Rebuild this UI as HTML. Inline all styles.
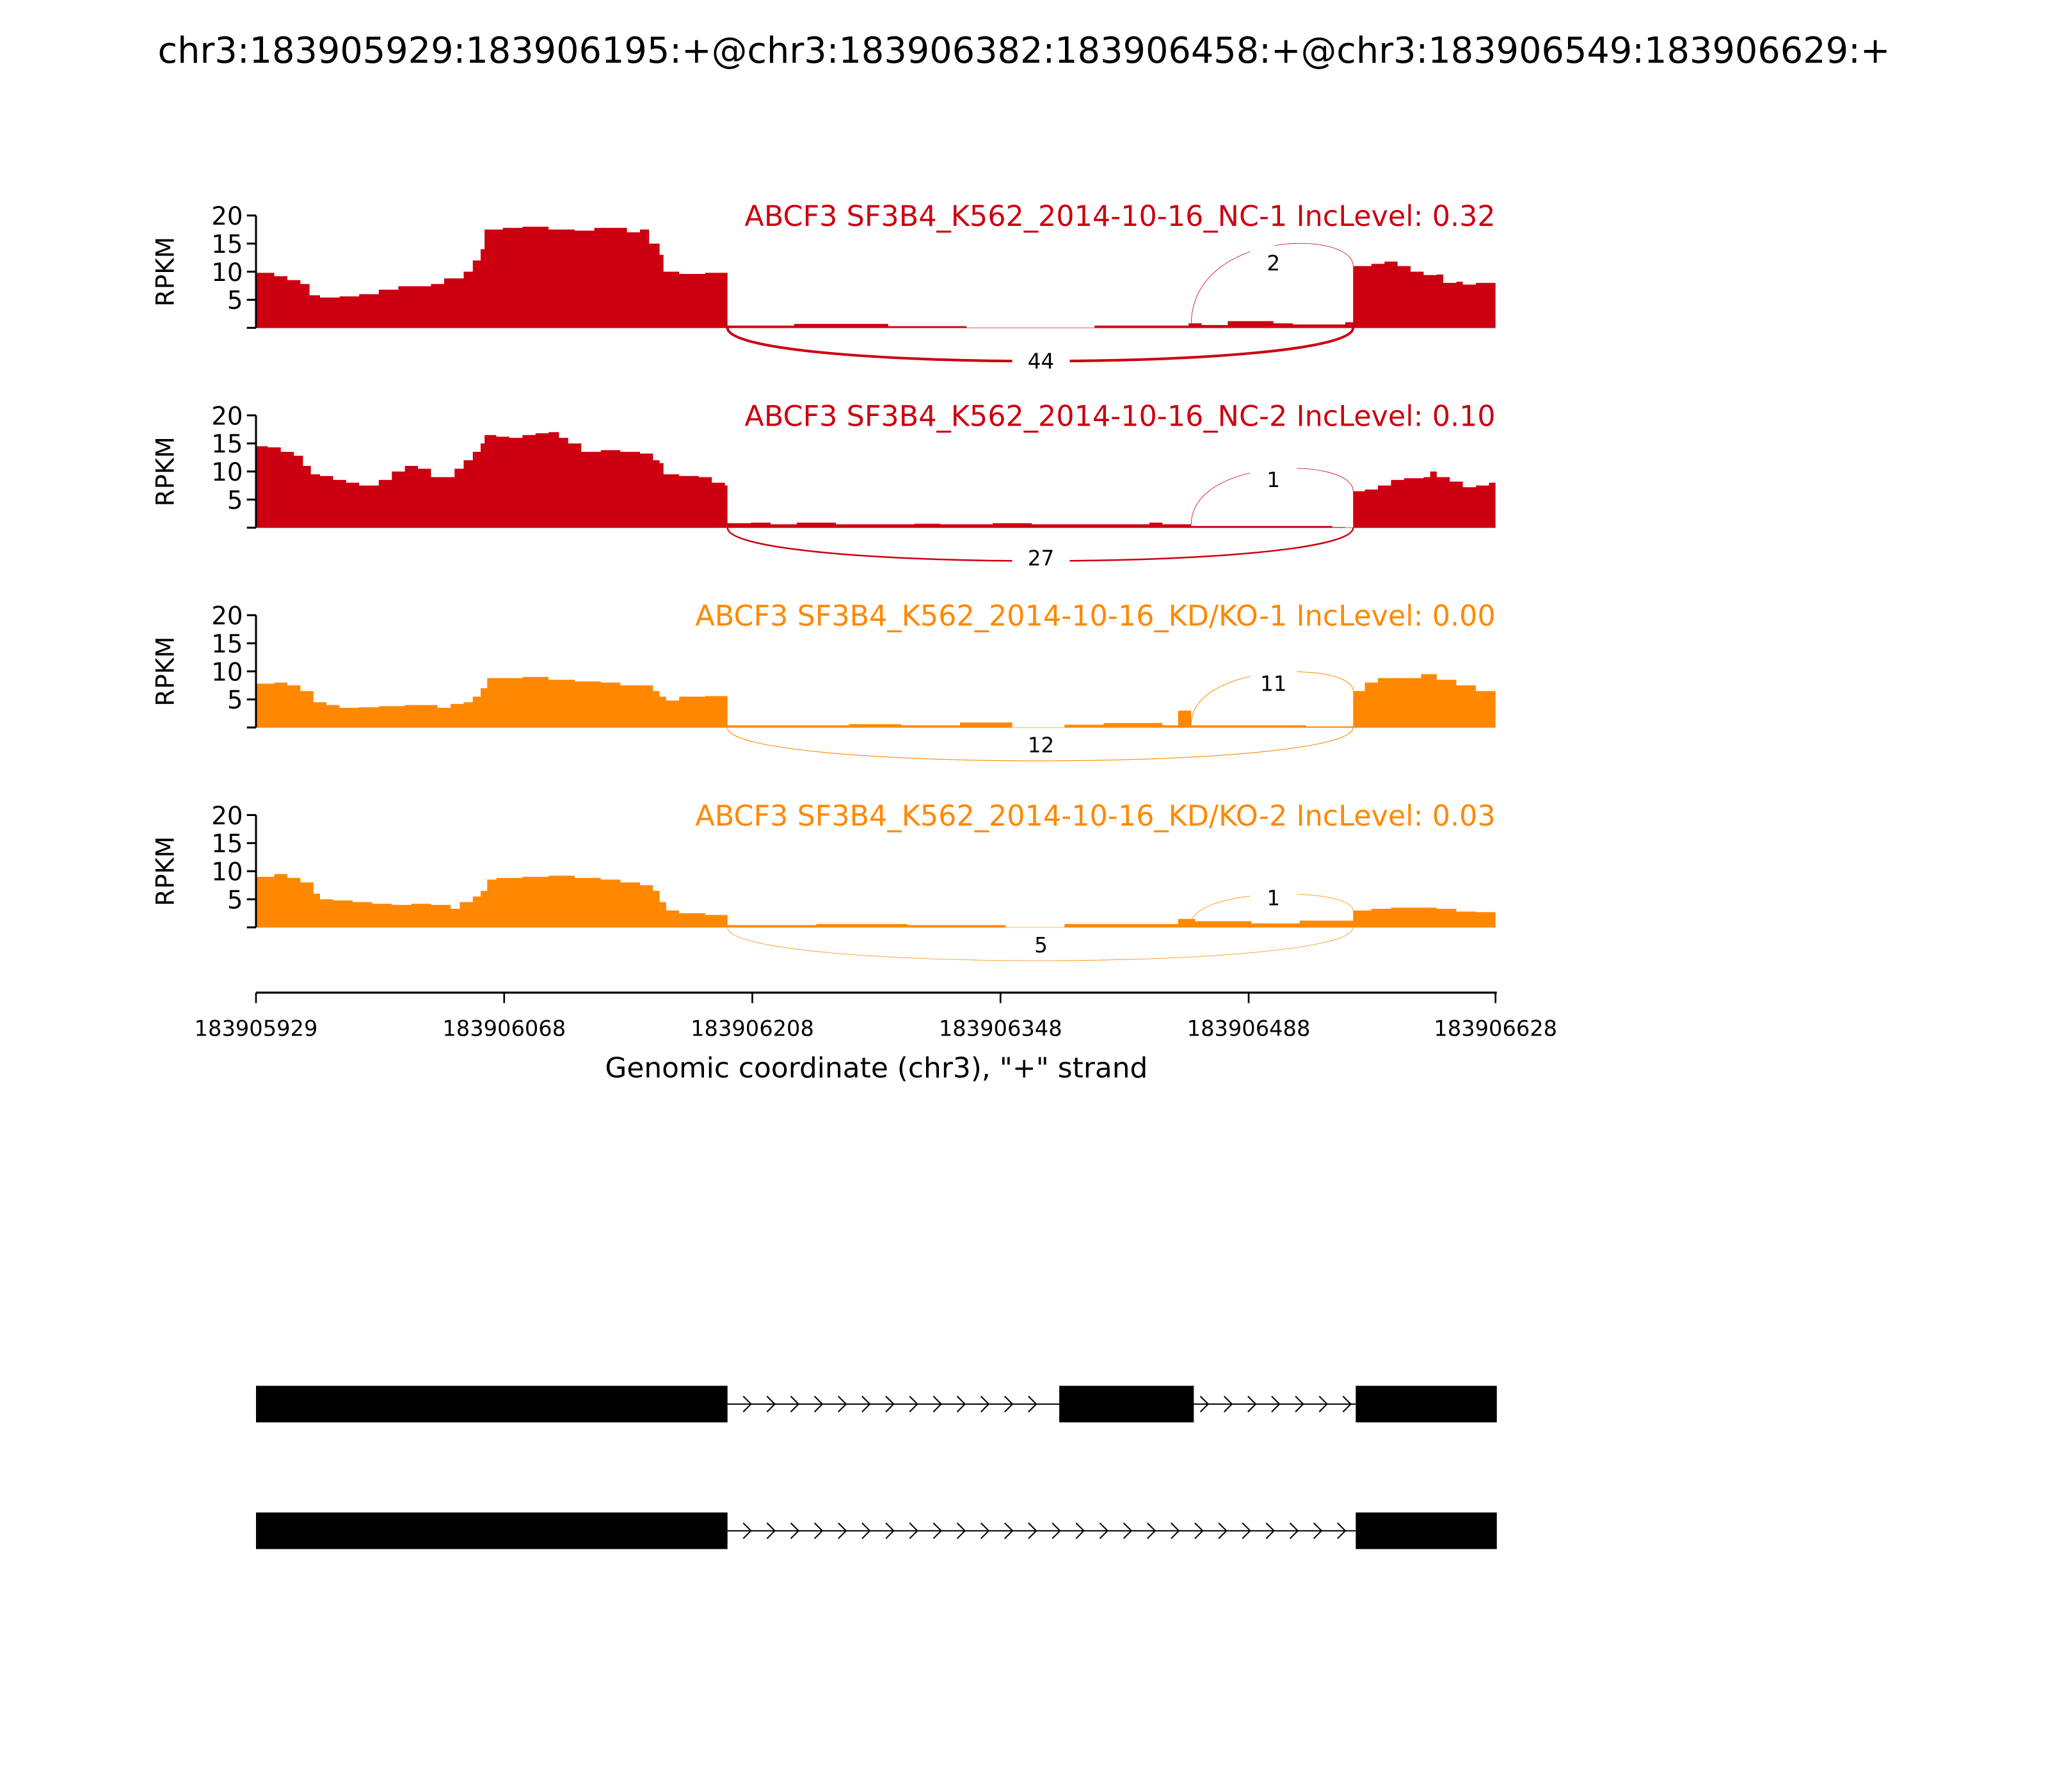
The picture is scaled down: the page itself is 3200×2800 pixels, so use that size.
<!DOCTYPE html>
<html><head><meta charset="utf-8"><style>html,body{margin:0;padding:0;background:#fff}svg{display:block}text{font-family:"DejaVu Sans","Liberation Sans",sans-serif}</style></head>
<body>
<svg id="s" xmlns="http://www.w3.org/2000/svg" width="3200" height="2800" viewBox="0 0 1568 1372" preserveAspectRatio="none">
<rect width="1568" height="1372" fill="#fff"/>
<text x="784" y="48" font-size="27.3" text-anchor="middle">chr3:183905929:183906195:+@chr3:183906382:183906458:+@chr3:183906549:183906629:+</text>
<g id="g"></g>
<line x1="196" y1="760" x2="1146" y2="760" stroke="#000" stroke-width="1.6"/>
<g stroke="#000" stroke-width="1.3">
<line x1="196" y1="760" x2="196" y2="768"/><line x1="386" y1="760" x2="386" y2="768"/><line x1="576" y1="760" x2="576" y2="768"/><line x1="766" y1="760" x2="766" y2="768"/><line x1="956" y1="760" x2="956" y2="768"/><line x1="1145" y1="760" x2="1145" y2="768"/></g>
<g font-size="16.5" text-anchor="middle">
<text x="196" y="793">183905929</text><text x="386" y="793">183906068</text><text x="576" y="793">183906208</text><text x="766" y="793">183906348</text><text x="956" y="793">183906488</text><text x="1145" y="793">183906628</text></g>
<text x="671" y="825" font-size="21.5" text-anchor="middle">Genomic coordinate (chr3), "+" strand</text>
<g fill="#000">
<rect x="196" y="1061" width="361" height="28"/><rect x="811" y="1061" width="103" height="28"/><rect x="1038" y="1061" width="108" height="28"/>
<rect x="196" y="1158" width="361" height="28"/><rect x="1038" y="1158" width="108" height="28"/></g>
<line x1="557" y1="1075" x2="811" y2="1075" stroke="#000" stroke-width="1"/>
<line x1="914" y1="1075" x2="1038" y2="1075" stroke="#000" stroke-width="1"/>
<line x1="557" y1="1172" x2="1038" y2="1172" stroke="#000" stroke-width="1"/>
<g id="chev" fill="none" stroke="#000" stroke-width="1"></g>
</svg>
<script>
var NS="http://www.w3.org/2000/svg",g=document.getElementById('g');
function el(t,a,p){var e=document.createElementNS(NS,t);for(var k in a)e.setAttribute(k,a[k]);(p||g).appendChild(e);return e;}
var R="#CC0011",O="#FF8800";
var panels=[
{c:R,t:"ABCF3 SF3B4_K562_2014-10-16_NC-1 IncLevel: 0.32",b:251,up:2,lo:44,
d:[196,9.8,210,9.2,220,8.5,230,7.8,237,5.8,245,5.4,260,5.6,275,6,290,6.8,305,7.4,330,7.8,340,8.8,355,10,362,12,368,14,371,17.5,385,17.8,400,18,420,17.5,440,17.3,455,17.8,470,17.8,480,17,490,17.5,497,15,505,13,508,10,520,9.6,540,9.8,555,9.8],
i:[557,0.4,608,0.7,680,0.3,740,0,838,0.4,910,0.8,920,0.5,940,1.2,975,0.8,990,0.6,1030,1],
e:[1036,11,1050,11.4,1060,11.8,1070,11,1080,10,1090,9.4,1100,9.5,1105,8,1115,8.2,1120,7.7,1130,8,1145,8],ul:975,uy:201,ly:276,pk:193},
{c:R,t:"ABCF3 SF3B4_K562_2014-10-16_NC-2 IncLevel: 0.10",b:404,up:1,lo:27,
d:[196,14.5,205,14.3,215,13.5,225,12.8,232,11,238,9.5,245,9.2,255,8.5,265,8,275,7.5,285,7.5,290,8.5,300,10,310,11,315,11,320,10.5,330,9,340,9,348,10.5,355,12,362,13.5,368,15,371,16.5,380,16.2,390,16,400,16.5,410,16.8,420,17,428,16,435,15,445,13.5,460,13.8,475,13.5,490,13.2,500,12,505,11.5,508,9.5,520,9.2,535,9,545,8,555,7.5],
i:[557,0.8,575,0.9,590,0.6,610,0.9,640,0.6,700,0.7,720,0.6,760,0.8,790,0.6,820,0.6,880,0.9,890,0.6,912,0.3,1020,0.1,1030,0],
e:[1036,6.5,1045,6.8,1055,7.5,1065,8.5,1075,8.8,1090,9,1095,10,1100,9,1110,8.2,1120,7.2,1130,7.5,1140,8,1145,8],ul:975,uy:367,ly:427,pk:362},
{c:O,t:"ABCF3 SF3B4_K562_2014-10-16_KD/KO-1 IncLevel: 0.00",b:557,up:11,lo:12,
d:[196,7.8,210,8,220,7.5,230,6.5,240,4.5,250,4,260,3.5,275,3.6,290,3.8,310,4,325,4,335,3.5,345,4.2,355,4.5,362,5.5,368,7,373,8.8,385,8.8,400,9,420,8.5,440,8.2,460,8,475,7.5,490,7.5,500,6.5,505,5.5,510,4.8,520,5.5,540,5.6,555,5.6],
i:[557,0.4,650,0.6,690,0.4,735,0.9,775,0,815,0.5,845,0.8,890,0.4,902,3,912,0.4,1000,0.2,1030,0.2],
e:[1036,6.5,1045,8,1055,8.8,1075,8.8,1088,9.5,1100,8.5,1115,7.5,1130,6.5,1145,6],ul:975,uy:523,ly:570,pk:518},
{c:O,t:"ABCF3 SF3B4_K562_2014-10-16_KD/KO-2 IncLevel: 0.03",b:710,up:1,lo:5,
d:[196,9,210,9.5,220,8.8,230,8,240,6,245,5,255,4.8,270,4.5,285,4.2,300,4,315,4.2,330,4,345,3.3,352,4.5,362,5.5,368,6.5,373,8.5,380,8.8,400,9,420,9.2,440,8.8,460,8.5,475,8,490,7.5,500,6.5,505,4.5,510,3,520,2.5,540,2.2,555,2.2],
i:[557,0.4,625,0.6,695,0.4,770,0,815,0.6,902,1.5,915,1.1,958,0.7,995,1.2],
e:[1036,3,1050,3.3,1065,3.5,1100,3.3,1115,2.8,1130,2.7,1145,2.7],ul:975,uy:687,ly:723,pk:686}
];
var k=4.3;
panels.forEach(function(p){
 var b=p.b,top=b-86;
 var pts=[[196,b]];
 var all=p.d.concat([557,0]).concat(p.i).concat(p.e);
 for(var j=0;j<all.length;j+=2){
   var x=all[j],v=all[j+1],nx=(j+2<all.length)?all[j+2]:1145;
   if(x===557&&v===0){pts.push([557,b]);continue;}
   pts.push([x,b-v*k]);pts.push([nx,b-v*k]);
 }
 pts.push([1145,b]);
 el('polygon',{points:pts.map(function(q){return q.join(',')}).join(' '),fill:p.c});
 el('line',{x1:196,y1:b,x2:1145,y2:b,stroke:p.c,"stroke-width":0.6,opacity:0.5});
 el('line',{x1:196,y1:top,x2:196,y2:b,stroke:"#000","stroke-width":1.5});
 [0,5,10,15,20].forEach(function(v){var y=b-v*k;el('line',{x1:189,y1:y,x2:196,y2:y,stroke:"#000","stroke-width":1.5});
  if(v>0){var t=el('text',{x:186,y:y+7,"font-size":19,"text-anchor":"end"});t.textContent=v;}});
 var r=el('text',{x:0,y:0,"font-size":19,"text-anchor":"middle",transform:"translate(133,"+(b-43)+") rotate(-90)"});r.textContent="RPKM";
 var t=el('text',{x:1145,y:top+8,"font-size":21.8,"text-anchor":"end",fill:p.c});t.textContent=p.t;
 var lw=Math.max(0.4,p.lo/22);
 var dep=b+34;
 el('path',{d:"M557,"+b+" C557,"+dep+" 1036,"+dep+" 1036,"+b,fill:"none",stroke:p.c,"stroke-width":lw});
 el('rect',{x:797-22,y:p.ly-11,width:44,height:20,fill:"#fff"});
 var lt=el('text',{x:797,y:p.ly+6,"font-size":16,"text-anchor":"middle"});lt.textContent=p.lo;
 var ry=b-p.e[1]*k;
 var uw=Math.max(0.4,p.up/22);
 var pk=p.pk,cy=pk-(b-pk)*0.3;
 el('path',{d:"M912,"+(b-2)+" C912,"+cy+" 1036,"+cy+" 1036,"+ry,fill:"none",stroke:p.c,"stroke-width":uw});
 el('rect',{x:p.ul-18,y:p.uy-13,width:36,height:20,fill:"#fff"});
 var ut=el('text',{x:p.ul,y:p.uy+6,"font-size":16,"text-anchor":"middle"});ut.textContent=p.up;
});
var ch=document.getElementById('chev');
function chev(x0,x1,y){for(var x=x0;x<=x1;x+=18.2){el('polyline',{points:(x-3)+","+(y-6)+" "+(x+3)+","+y+" "+(x-3)+","+(y+6)},ch);}}
chev(572,808,1075);chev(922,1035,1075);chev(572,1035,1172);
</script>
</body></html>
